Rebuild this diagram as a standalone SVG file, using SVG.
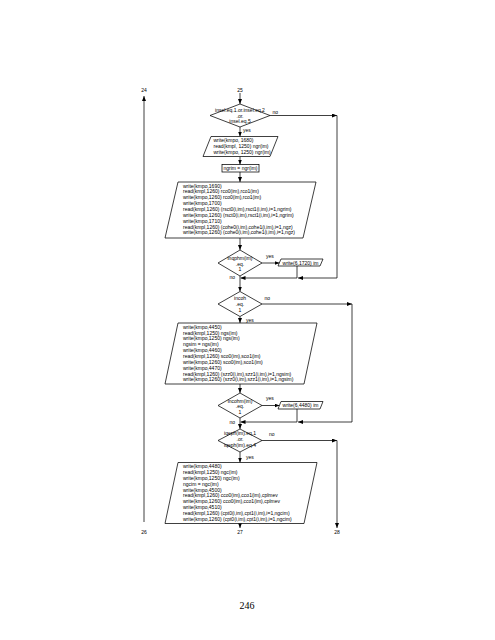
<svg xmlns="http://www.w3.org/2000/svg" width="495" height="640" viewBox="0 0 495 640">
<defs>
<marker id="ah" markerWidth="5" markerHeight="4" refX="5" refY="2" orient="auto" markerUnits="userSpaceOnUse"><path d="M0,0 L5,2 L0,4 z" fill="#000"/></marker>
</defs>
<style>
text{font-family:"Liberation Sans",Arial,sans-serif;font-size:5px;fill:#000}
.c{text-anchor:middle}
.shape{fill:#fff;stroke:#000;stroke-width:0.75}
.ln{fill:none;stroke:#000;stroke-width:0.75}
.ar{fill:none;stroke:#000;stroke-width:0.75;marker-end:url(#ah)}
.pg{font-family:"Liberation Serif","Times New Roman",serif;font-size:10px}
</style>
<rect width="495" height="640" fill="#fff"/>
<g id="connectors">
<line class="ar" x1="144" y1="522" x2="144" y2="96"/>
<line class="ar" x1="240" y1="93" x2="240" y2="104"/>
<line class="ar" x1="270" y1="115.5" x2="337" y2="115.5"/>
<line class="ln" x1="337" y1="115.5" x2="337" y2="278"/>
<line class="ar" x1="240" y1="127" x2="240" y2="136.5"/>
<line class="ar" x1="240" y1="156.5" x2="240" y2="164.5"/>
<line class="ar" x1="240" y1="172" x2="240" y2="182"/>
<line class="ar" x1="240" y1="238" x2="240" y2="250"/>
<line class="ar" x1="262" y1="263" x2="279.5" y2="263"/>
<line class="ln" x1="297" y1="266" x2="297" y2="278"/>
<line class="ar" x1="337" y1="278" x2="298" y2="278"/>
<line class="ar" x1="297" y1="278" x2="240.5" y2="278"/>
<line class="ar" x1="240" y1="276" x2="240" y2="291.5"/>
<line class="ar" x1="262" y1="304" x2="352" y2="304"/>
<line class="ln" x1="352" y1="304" x2="352" y2="422"/>
<line class="ar" x1="240" y1="316.5" x2="240" y2="323"/>
<line class="ar" x1="240" y1="384" x2="240" y2="393"/>
<line class="ar" x1="262" y1="405.5" x2="279.5" y2="405.5"/>
<line class="ln" x1="297" y1="409" x2="297" y2="422"/>
<line class="ar" x1="352" y1="422" x2="298" y2="422"/>
<line class="ar" x1="297" y1="422" x2="240.5" y2="422"/>
<line class="ar" x1="240" y1="418" x2="240" y2="429"/>
<line class="ar" x1="262" y1="440.5" x2="337" y2="440.5"/>
<line class="ar" x1="337" y1="440.5" x2="337" y2="528"/>
<line class="ar" x1="240" y1="452" x2="240" y2="462.5"/>
<line class="ar" x1="240" y1="523.5" x2="240" y2="528"/>
</g>
<g id="n24"><text class="c" x="144" y="91.5">24</text></g>
<g id="n25"><text class="c" x="240" y="91.5">25</text></g>
<g id="n26"><text class="c" x="144" y="534">26</text></g>
<g id="n27"><text class="c" x="240" y="534">27</text></g>
<g id="n28"><text class="c" x="337" y="534">28</text></g>
<g id="d1">
<polygon class="shape" points="240,104 270,115.5 240,127 210,115.5"/>
<text class="c" x="240" y="112">insel.eq.1.or.insel.eq.2</text>
<text class="c" x="240" y="117.5">.or.</text>
<text class="c" x="240" y="123">insel.eq.5</text>
<text x="272.5" y="113.5">no</text>
<text x="243" y="132">yes</text>
</g>
<g id="p1">
<polygon class="shape" points="211,136.5 278,136.5 270,156.5 203,156.5"/>
<text x="213.5" y="142.3">write(kmpo, 1680)</text>
<text x="213.5" y="148">read(kmpl, 1250) ngr(im)</text>
<text x="213.5" y="153.7">write(kmpo, 1250) ngr(im)</text>
</g>
<g id="b1">
<rect class="shape" x="222" y="164.5" width="37" height="7.5"/>
<text class="c" x="240.5" y="170.2">ngrim = ngr(im)</text>
</g>
<g id="p2">
<polygon class="shape" points="178,182 316,182 303,238 165,238"/>
<text x="183" y="187.6">write(kmpo,1690)</text>
<text x="183" y="193.45">read(kmpl,1260) rco0(im),rco1(im)</text>
<text x="183" y="199.3">write(kmpo,1260) rco0(im),rco1(im)</text>
<text x="183" y="205.15">write(kmpo,1700)</text>
<text x="183" y="211">read(kmpl,1260) (rsct0(i,im),rsct1(i,im),i=1,ngrim)</text>
<text x="183" y="216.85">write(kmpo,1260) (rsct0(i,im),rsct1(i,im),i=1,ngrim)</text>
<text x="183" y="222.7">write(kmpo,1710)</text>
<text x="183" y="228.55">read(kmpl,1260) (cohe0(i,im),cohe1(i,im),i=1,ngz)</text>
<text x="183" y="234.4">write(kmpo,1260) (cohe0(i,im),cohe1(i,im),i=1,ngz)</text>
</g>
<g id="d2">
<polygon class="shape" points="240,250 262,263 240,276 218,263"/>
<text class="c" x="240" y="260">inqphm(im)</text>
<text class="c" x="240" y="265.5">.eq.</text>
<text class="c" x="240" y="271">1</text>
<text x="266" y="257.5">yes</text>
<text x="229.5" y="279">no</text>
</g>
<g id="w1">
<polygon class="shape" points="281,259 323,259 320,266 278,266"/>
<text class="c" x="300.5" y="264.5">write(6,1720) im</text>
</g>
<g id="d3">
<polygon class="shape" points="240,291.5 262,304 240,316.5 218,304"/>
<text class="c" x="240" y="300">incoh</text>
<text class="c" x="240" y="306">.eq.</text>
<text class="c" x="240" y="311.5">1</text>
<text x="264.5" y="300">no</text>
<text x="246" y="321.5">yes</text>
</g>
<g id="p3">
<polygon class="shape" points="178,323 317,323 304,384 165,384"/>
<text x="183" y="328.7">write(kmpo,4450)</text>
<text x="183" y="334.55">read(kmpl,1250) ngs(im)</text>
<text x="183" y="340.4">write(kmpo,1250) ngs(im)</text>
<text x="183" y="346.25">ngsim = ngs(im)</text>
<text x="183" y="352.1">write(kmpo,4460)</text>
<text x="183" y="357.95">read(kmpl,1260) sco0(im),sco1(im)</text>
<text x="183" y="363.8">write(kmpo,1260) sco0(im),sco1(im)</text>
<text x="183" y="369.65">write(kmpo,4470)</text>
<text x="183" y="375.5">read(kmpl,1260) (szz0(i,im),szz1(i,im),i=1,ngsim)</text>
<text x="183" y="381.35">write(kmpo,1260) (szz0(i,im),szz1(i,im),i=1,ngsim)</text>
</g>
<g id="d4">
<polygon class="shape" points="240,393 262,405.5 240,418 218,405.5"/>
<text class="c" x="240" y="402.5">incohm(im)</text>
<text class="c" x="240" y="408">.eq.</text>
<text class="c" x="240" y="413.5">1</text>
<text x="266" y="400">yes</text>
<text x="229.5" y="424">no</text>
</g>
<g id="w2">
<polygon class="shape" points="281,401.5 323,401.5 320,409 278,409"/>
<text class="c" x="300.5" y="407.2">write(6,4480) im</text>
</g>
<g id="d5">
<polygon class="shape" points="240,429 262,440.5 240,452 218,440.5"/>
<text class="c" x="240" y="435">iqeph(im).eq.1</text>
<text class="c" x="240" y="441">.or.</text>
<text class="c" x="240" y="446.7">iqeph(im).eq.4</text>
<text x="269" y="436">no</text>
<text x="246" y="458.5">yes</text>
</g>
<g id="p4">
<polygon class="shape" points="178,462.5 317,462.5 304,523.5 165,523.5"/>
<text x="183" y="468.2">write(kmpo,4480)</text>
<text x="183" y="474.05">read(kmpl,1250) ngc(im)</text>
<text x="183" y="479.9">write(kmpo,1250) ngc(im)</text>
<text x="183" y="485.75">ngcim = ngc(im)</text>
<text x="183" y="491.6">write(kmpo,4500)</text>
<text x="183" y="497.45">read(kmpl,1260) cco0(im),cco1(im),cplmev</text>
<text x="183" y="503.3">write(kmpo,1260) cco0(im),cco1(im),cplmev</text>
<text x="183" y="509.15">write(kmpo,4510)</text>
<text x="183" y="515">read(kmpl,1260) (cpt0(i,im),cpt1(i,im),i=1,ngcim)</text>
<text x="183" y="520.85">write(kmpo,1260) (cpt0(i,im),cpt1(i,im),i=1,ngcim)</text>
</g>
<g id="page"><text class="pg c" x="247" y="609">246</text></g>
</svg>
